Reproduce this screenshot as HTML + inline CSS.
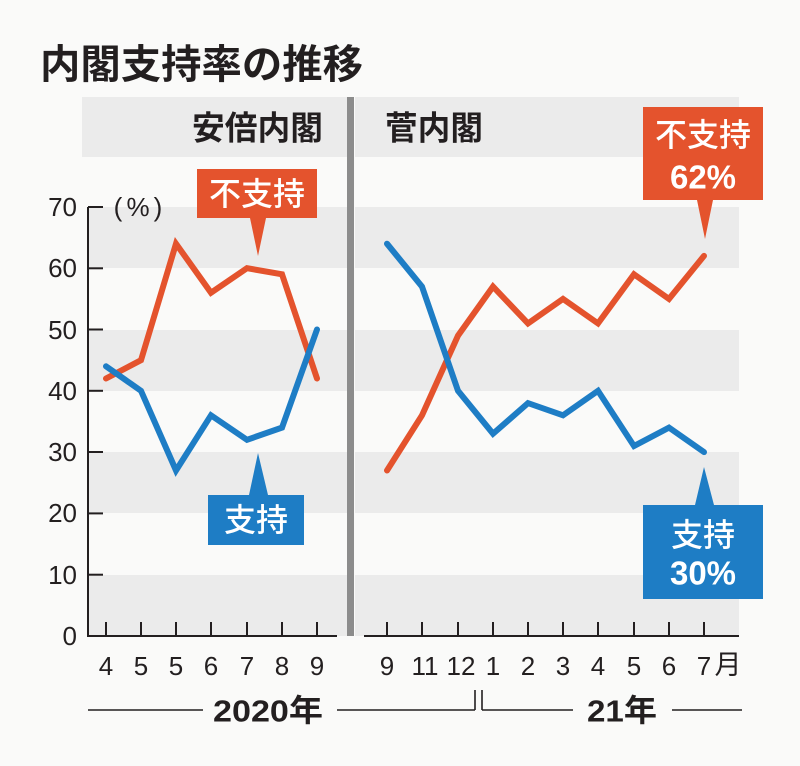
<!DOCTYPE html>
<html><head><meta charset="utf-8"><style>
html,body{margin:0;padding:0;background:#fafaf9;}
svg{display:block;}
.jp{font-family:"Liberation Sans","Noto Sans CJK JP",sans-serif;}
.num{font-family:"Liberation Sans",sans-serif;}
</style></head><body>
<svg width="800" height="766" viewBox="0 0 800 766" xmlns="http://www.w3.org/2000/svg">
<rect x="0" y="0" width="800" height="766" fill="#fafaf9"/>
<!-- title -->
<text class="jp" x="40" y="65" dominant-baseline="central" font-size="40" font-weight="700" fill="#231f20" textLength="323" lengthAdjust="spacingAndGlyphs">内閣支持率の推移</text>
<!-- header bands -->
<rect x="82" y="97" width="265" height="60" fill="#ebebeb"/>
<rect x="355" y="97" width="384" height="60" fill="#ebebeb"/>
<!-- data bands -->
<g fill="#ebebeb">
<rect x="88" y="207" width="259" height="61"/>
<rect x="88" y="330" width="259" height="61"/>
<rect x="88" y="452" width="259" height="61"/>
<rect x="88" y="575" width="259" height="61"/>
<rect x="355" y="207" width="384" height="61"/>
<rect x="355" y="330" width="384" height="61"/>
<rect x="355" y="452" width="384" height="61"/>
<rect x="355" y="575" width="384" height="61"/>
</g>
<!-- divider -->
<rect x="347" y="97" width="7" height="539" fill="#8c8c8c"/>
<!-- panel headers -->
<text class="jp" x="192" y="128" dominant-baseline="central" font-size="33" font-weight="700" fill="#231f20" textLength="131" lengthAdjust="spacingAndGlyphs">安倍内閣</text>
<text class="jp" x="385" y="128" dominant-baseline="central" font-size="33" font-weight="700" fill="#231f20" textLength="98" lengthAdjust="spacingAndGlyphs">菅内閣</text>
<!-- axes -->
<g stroke="#231f20" stroke-width="2" fill="none">
<line x1="88" y1="207" x2="88" y2="637"/>
<line x1="87" y1="636" x2="337" y2="636"/>
<line x1="364" y1="636" x2="739" y2="636"/>
<line x1="88" y1="207" x2="103" y2="207"/>
<line x1="88" y1="268.3" x2="103" y2="268.3"/>
<line x1="88" y1="329.5" x2="103" y2="329.5"/>
<line x1="88" y1="390.8" x2="103" y2="390.8"/>
<line x1="88" y1="452" x2="103" y2="452"/>
<line x1="88" y1="513.4" x2="103" y2="513.4"/>
<line x1="88" y1="574.7" x2="103" y2="574.7"/>
<line x1="106" y1="622" x2="106" y2="636"/>
<line x1="141" y1="622" x2="141" y2="636"/>
<line x1="176" y1="622" x2="176" y2="636"/>
<line x1="211" y1="622" x2="211" y2="636"/>
<line x1="247" y1="622" x2="247" y2="636"/>
<line x1="282" y1="622" x2="282" y2="636"/>
<line x1="317" y1="622" x2="317" y2="636"/>
<line x1="387" y1="622" x2="387" y2="636"/>
<line x1="422" y1="622" x2="422" y2="636"/>
<line x1="458" y1="622" x2="458" y2="636"/>
<line x1="493" y1="622" x2="493" y2="636"/>
<line x1="528" y1="622" x2="528" y2="636"/>
<line x1="563" y1="622" x2="563" y2="636"/>
<line x1="598" y1="622" x2="598" y2="636"/>
<line x1="634" y1="622" x2="634" y2="636"/>
<line x1="669" y1="622" x2="669" y2="636"/>
<line x1="704" y1="622" x2="704" y2="636"/>
</g>
<!-- y labels -->
<g class="num" font-size="26" fill="#231f20" text-anchor="end" dominant-baseline="central">
<text x="77" y="207">70</text>
<text x="77" y="268">60</text>
<text x="77" y="330">50</text>
<text x="77" y="391">40</text>
<text x="77" y="452">30</text>
<text x="77" y="513">20</text>
<text x="77" y="575">10</text>
<text x="77" y="636">0</text>
</g>
<g class="num" font-size="26" fill="#231f20" text-anchor="middle" dominant-baseline="central">
<text x="118" y="207">(</text>
<text x="138" y="207">%</text>
<text x="158" y="207">)</text>
</g>
<!-- x labels -->
<g class="num" font-size="26" fill="#231f20" text-anchor="middle" dominant-baseline="central">
<text x="106" y="666">4</text>
<text x="141" y="666">5</text>
<text x="176" y="666">5</text>
<text x="211" y="666">6</text>
<text x="247" y="666">7</text>
<text x="282" y="666">8</text>
<text x="317" y="666">9</text>
<text x="387" y="666">9</text>
<text x="425" y="666">11</text>
<text x="461" y="666">12</text>
<text x="493" y="666">1</text>
<text x="528" y="666">2</text>
<text x="563" y="666">3</text>
<text x="598" y="666">4</text>
<text x="634" y="666">5</text>
<text x="669" y="666">6</text>
<text x="704" y="666">7</text>
</g>
<text class="jp" x="728" y="665" text-anchor="middle" dominant-baseline="central" font-size="27" fill="#231f20">月</text>
<!-- year line -->
<g stroke="#231f20" stroke-width="1.6" fill="none">
<line x1="88" y1="710" x2="203" y2="710"/>
<line x1="337" y1="710" x2="475" y2="710"/>
<line x1="475" y1="690" x2="475" y2="710"/>
<line x1="482" y1="690" x2="482" y2="710"/>
<line x1="482" y1="710" x2="573" y2="710"/>
<line x1="672" y1="710" x2="742" y2="710"/>
</g>
<text class="jp" x="213" y="711" dominant-baseline="central" font-size="31" font-weight="700" fill="#231f20" textLength="110" lengthAdjust="spacingAndGlyphs">2020年</text>
<text class="jp" x="587" y="711" dominant-baseline="central" font-size="31" font-weight="700" fill="#231f20" textLength="70" lengthAdjust="spacingAndGlyphs">21年</text>
<!-- data lines -->
<g fill="none" stroke-width="6" stroke-linecap="round" stroke-linejoin="miter" stroke-miterlimit="4">
<polyline stroke="#e4532d" points="106,378.5 141,360.2 176,243.7 211,292.7 247,268.2 282,274.3 317,378.5"/>
<polyline stroke="#e4532d" points="387,470.5 422,415.3 458,335.6 493,286.6 528,323.4 563,298.9 598,323.4 634,274.3 669,298.9 704,255.9"/>
<polyline stroke="#1e7dc5" points="106,366.3 141,390.8 176,470.5 211,415.3 247,439.8 282,427.6 317,329.5"/>
<polyline stroke="#1e7dc5" points="387,243.7 422,286.6 458,390.8 493,433.7 528,403.1 563,415.3 598,390.8 634,446 669,427.6 704,452.1"/>
</g>
<!-- callouts -->
<polygon fill="#e4532d" points="197,169 317,169 317,218 266,218 258,256 250,218 197,218"/>
<text class="jp" x="257" y="194" text-anchor="middle" dominant-baseline="central" font-size="32" font-weight="500" fill="#fff">不支持</text>
<polygon fill="#1e7dc5" points="258,453 268,495 304,495 304,545 208,545 208,495 249,495"/>
<text class="jp" x="256" y="520" text-anchor="middle" dominant-baseline="central" font-size="32" font-weight="500" fill="#fff">支持</text>
<polygon fill="#e4532d" points="643,107 763,107 763,200 713,200 705,239 697,200 643,200"/>
<text class="jp" x="703" y="135" text-anchor="middle" dominant-baseline="central" font-size="32" font-weight="500" fill="#fff">不支持</text>
<text class="jp" x="703" y="177" text-anchor="middle" dominant-baseline="central" font-size="33" font-weight="700" fill="#fff">62%</text>
<polygon fill="#1e7dc5" points="704,467 714,505 763,505 763,599 643,599 643,505 695,505"/>
<text class="jp" x="703" y="535" text-anchor="middle" dominant-baseline="central" font-size="32" font-weight="500" fill="#fff">支持</text>
<text class="jp" x="703" y="573" text-anchor="middle" dominant-baseline="central" font-size="33" font-weight="700" fill="#fff">30%</text>
</svg>
</body></html>
